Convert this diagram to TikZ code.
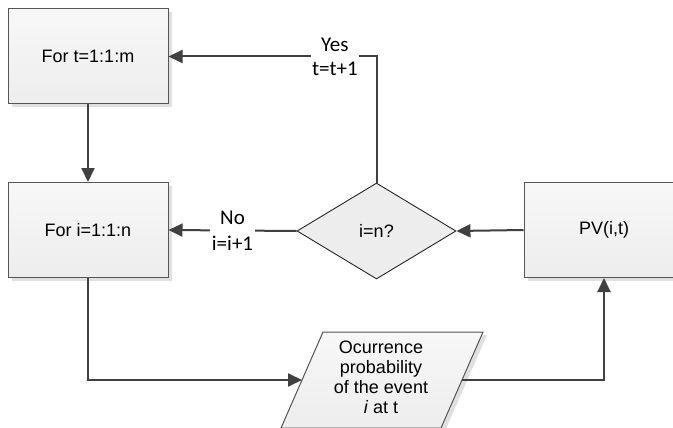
\documentclass[tikz,border=0pt]{standalone}
\usepackage{fontspec}
\setmainfont{Liberation Sans}
\newfontfamily\lblfont{Carlito}
\usetikzlibrary{arrows.meta,shapes.geometric,shadows}

\definecolor{linegray}{HTML}{404040}
\definecolor{edgegray}{HTML}{555555}

\begin{document}
\begin{tikzpicture}[x=1pt,y=-1pt,
  boxshadow/.style={drop shadow={shadow xshift=4pt, shadow yshift=-3pt, fill=black!12, opacity=1}},
  proc/.style={draw=edgegray, line width=1pt, top color=black!3, bottom color=black!7,
    minimum width=160pt, minimum height=95pt, inner sep=0pt,
    font=\fontsize{18}{21}\selectfont, boxshadow},
  decide/.style={diamond, draw=black!85, line width=0.9pt, fill=black!7,
    minimum width=159pt, minimum height=96pt, shape aspect=1.656, inner sep=0pt,
    font=\fontsize{18}{21}\selectfont},
  flow/.style={draw=linegray, line width=2pt, -{Triangle[length=14pt,width=13pt]}},
  lbl/.style={fill=white, font=\lblfont\fontsize{21}{24}\selectfont, align=center, inner sep=1.5pt}
]
\clip (0,0) rectangle (673,428);
\fill[white] (0,0) rectangle (673,428);

% process boxes
\node[proc] (tbox) at (88,56.5) {For t=1:1:m};
\node[proc] (ibox) at (88,230) {For i=1:1:n};
\node[proc] (pv) at (604,230) {PV(i,t)};

% decision
\node[decide] (dec) at (376.5,231) {i=n?};

% input/output parallelogram
\path[draw=edgegray, line width=1pt, top color=black!3, bottom color=black!7, boxshadow]
  (323,332) -- (483,332) -- (441,428) -- (281,428) -- cycle;
\coordinate (occL) at (302,380);
\coordinate (occR) at (462,380);
\node[font=\fontsize{18}{20}\selectfont, align=center] (occ) at (381,377.5)
  {Ocurrence\\probability\\of the event\\\textit{i} at t};

% connectors
\draw[flow] (tbox.south) -- (ibox.north);
\draw[flow] (dec.north) |- node[lbl, pos=0.6] {Yes\\t=t+1} (tbox.east);
\draw[flow] (dec.west) -- node[lbl, minimum width=44pt] {No\\[2pt]i=i+1} (ibox.east);
\draw[flow] (pv.west) -- (dec.east);
\draw[flow] (ibox.south) |- (occL);
\draw[flow] (occR) -| (pv.south);
\end{tikzpicture}
\end{document}
